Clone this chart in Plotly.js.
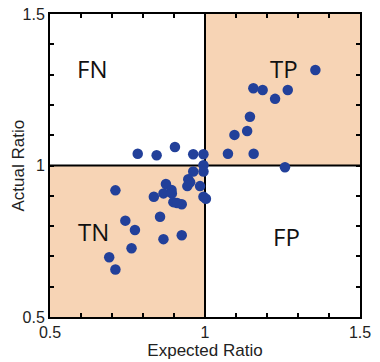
<!DOCTYPE html>
<html>
<head>
<meta charset="utf-8">
<script src="https://cdn.plot.ly/plotly-3.0.1.min.js"></script>
<style>html,body{margin:0;padding:0;background:#fff;}#chart{width:380px;height:362px;}</style>
</head>
<body>
<div id="chart"></div>
<script>
const expectedRatio = [1.356,1.156,1.186,1.267,1.226,1.145,1.136,1.095,1.074,1.157,0.783,0.844,0.903,0.962,0.995,0.995,1.258,0.995,0.962,0.946,0.943,0.984,0.995,1.003,0.874,0.892,0.866,0.893,0.835,0.711,0.898,0.925,0.855,0.743,0.774,0.866,0.925,0.763,0.691,0.711,0.952,0.910];
const actualRatio   = [1.315,1.255,1.249,1.249,1.220,1.161,1.114,1.101,1.039,1.039,1.039,1.034,1.061,1.037,1.037,1.001,0.994,0.980,0.980,0.955,0.932,0.932,0.897,0.890,0.939,0.919,0.908,0.908,0.897,0.918,0.879,0.872,0.831,0.818,0.787,0.757,0.770,0.727,0.697,0.657,0.945,0.876];
const tickVals = [0.5, 1, 1.5];
const tickText = ['0.5', '1', '1.5'];
const quadrantLabels = ['FN', 'TP', 'TN', 'FP'];
const labelX = [0.634, 1.256, 0.640, 1.263];
const labelY = [1.321, 1.321, 0.782, 0.765];
const xTitle = 'Expected Ratio';
const yTitle = 'Actual Ratio';

const axisFont = 'Liberation Sans, Arial, sans-serif';
const axisCommon = {
  range: [0.5, 1.5],
  tickvals: tickVals,
  ticktext: tickText,
  ticks: 'inside',
  ticklen: 4,
  tickwidth: 2,
  tickcolor: '#000',
  mirror: 'allticks',
  showline: true,
  linecolor: '#000',
  linewidth: 2,
  showgrid: false,
  zeroline: false,
  minor: {dtick: 0.1, tick0: 0.5, ticks: 'inside', ticklen: 4, tickwidth: 2, tickcolor: '#000', showgrid: false},
  tickfont: {family: axisFont, size: 16, color: '#222'},
  fixedrange: true
};

const shapes = [
  {type: 'rect', xref: 'x', yref: 'y', x0: 1, x1: 1.5, y0: 1, y1: 1.5, fillcolor: '#F7D4B5', line: {width: 0}, layer: 'below'},
  {type: 'rect', xref: 'x', yref: 'y', x0: 0.5, x1: 1, y0: 0.5, y1: 1, fillcolor: '#F7D4B5', line: {width: 0}, layer: 'below'},
  {type: 'line', xref: 'x', yref: 'y', x0: 1, x1: 1, y0: 0.5, y1: 1.5, line: {color: '#000', width: 2}, layer: 'below'},
  {type: 'line', xref: 'x', yref: 'y', x0: 0.5, x1: 1.5, y0: 1, y1: 1, line: {color: '#000', width: 2}, layer: 'below'}
];

const annotations = quadrantLabels.map((t, i) => ({
  x: labelX[i], y: labelY[i], xref: 'x', yref: 'y', text: t, showarrow: false,
  font: {family: 'Open Sans, sans-serif', size: 24, color: '#111'}
}));
annotations.push({
  x: 0, y: 0.5, xref: 'paper', yref: 'paper', xanchor: 'center', yanchor: 'middle',
  xshift: -32, text: yTitle, textangle: -90, showarrow: false,
  font: {family: axisFont, size: 17, color: '#222'}
});

Plotly.newPlot('chart', [{
  x: expectedRatio,
  y: actualRatio,
  type: 'scatter',
  mode: 'markers',
  marker: {color: '#22409A', size: 10.5, line: {width: 0}},
  hoverinfo: 'skip'
}], {
  width: 380,
  height: 362,
  margin: {l: 50, r: 20, t: 14, b: 45},
  paper_bgcolor: '#fff',
  plot_bgcolor: '#fff',
  showlegend: false,
  xaxis: Object.assign({}, axisCommon, {
    title: {text: xTitle, font: {family: axisFont, size: 17, color: '#222'}, standoff: 0}
  }),
  yaxis: Object.assign({}, axisCommon),
  shapes: shapes,
  annotations: annotations
}, {displayModeBar: false, staticPlot: true});
</script>
</body>
</html>
